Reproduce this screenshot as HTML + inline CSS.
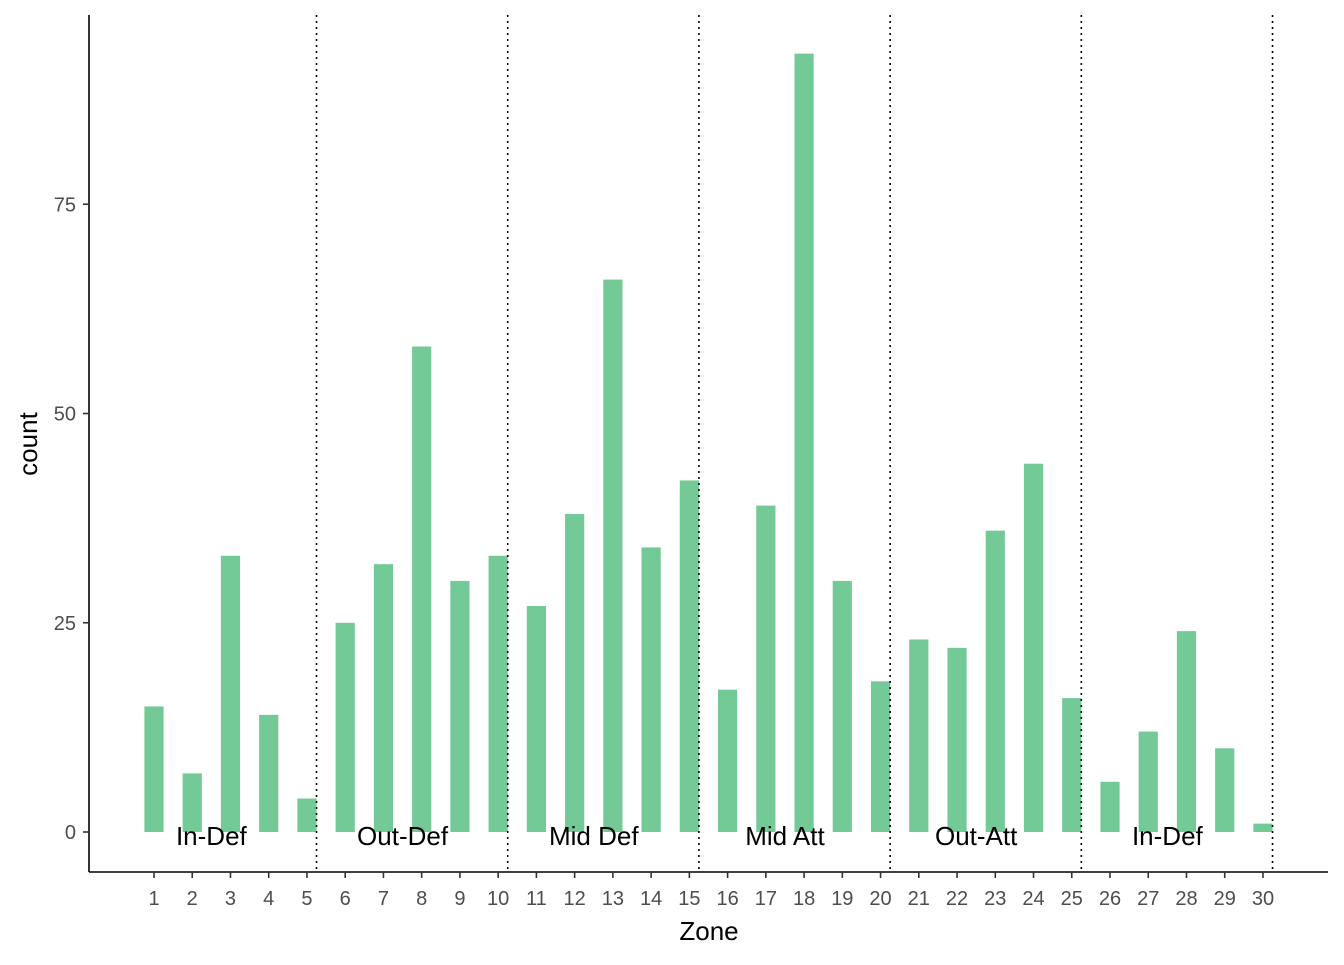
<!DOCTYPE html>
<html><head><meta charset="utf-8"><style>
body{margin:0;background:#fff}
svg text{font-family:"Liberation Sans",Arial,sans-serif}
</style></head><body>
<svg id="chart" width="1344" height="960" xmlns="http://www.w3.org/2000/svg">
<g id="grid"></g><g id="bars"></g><g id="annot"></g><g id="axes"></g>
</svg>
<script>
const zones=[1,2,3,4,5,6,7,8,9,10,11,12,13,14,15,16,17,18,19,20,21,22,23,24,25,26,27,28,29,30];
const counts=[15,7,33,14,4,25,32,58,30,33,27,38,66,34,42,17,39,93,30,18,23,22,36,44,16,6,12,24,10,1];
const yTicks=[0,25,50,75];
const dividers=[5.25,10.25,15.25,20.25,25.25,30.25];
const zoneNames=["In-Def","Out-Def","Mid Def","Mid Att","Out-Att","In-Def"];
const zoneCenters=[2.5,7.5,12.5,17.5,22.5,27.5];
const NS="http://www.w3.org/2000/svg";
const x=v=>154+(v-1)*38.24;
const y=v=>832-v*8.37;
function mk(tag,attrs,parent,text){const e=document.createElementNS(NS,tag);for(const k in attrs)e.setAttribute(k,attrs[k]);if(text!==undefined)e.textContent=text;parent.appendChild(e);return e;}
const bars=document.getElementById('bars'),annot=document.getElementById('annot'),axes=document.getElementById('axes');
counts.forEach((c,i)=>{
 const r=mk('rect',{x:x(zones[i])-9.6,y:y(c),width:19.2,height:y(0)-y(c),fill:'#74ca97'},bars);
 
 
});
dividers.forEach((d,i)=>{
 const l=mk('line',{x1:x(d),x2:x(d),y1:15,y2:872,stroke:'#000','stroke-width':1.6,'stroke-dasharray':'2 4'},annot);
 
 
});
zoneNames.forEach((n,i)=>{
 const t=mk('text',{x:x(zoneCenters[i]),y:845,'text-anchor':'middle','font-size':26,fill:'#000'},annot,n);
 
 
});
let a=mk('line',{x1:89,x2:89,y1:15,y2:872,stroke:'#000','stroke-width':1.6},axes);


a=mk('line',{x1:89,x2:1328,y1:872,y2:872,stroke:'#000','stroke-width':1.6},axes);


yTicks.forEach(v=>{
 const tk=mk('line',{x1:83,x2:89,y1:y(v),y2:y(v),stroke:'#333','stroke-width':1.6},axes);
 
 
 const t=mk('text',{x:76,y:y(v)+7,'text-anchor':'end','font-size':20,fill:'#4d4d4d'},axes,v);
 
 
});
zones.forEach(z=>{
 const tk=mk('line',{x1:x(z),x2:x(z),y1:872,y2:878,stroke:'#333','stroke-width':1.6},axes);
 
 
 const t=mk('text',{x:x(z),y:905,'text-anchor':'middle','font-size':20,fill:'#4d4d4d'},axes,z);
 
 
});
let t=mk('text',{x:709,y:940,'text-anchor':'middle','font-size':26,fill:'#000'},axes,'Zone');


t=mk('text',{x:37,y:444,'text-anchor':'middle','font-size':26,fill:'#000',transform:'rotate(-90 37 444)'},axes,'count');


</script>
</body></html>
